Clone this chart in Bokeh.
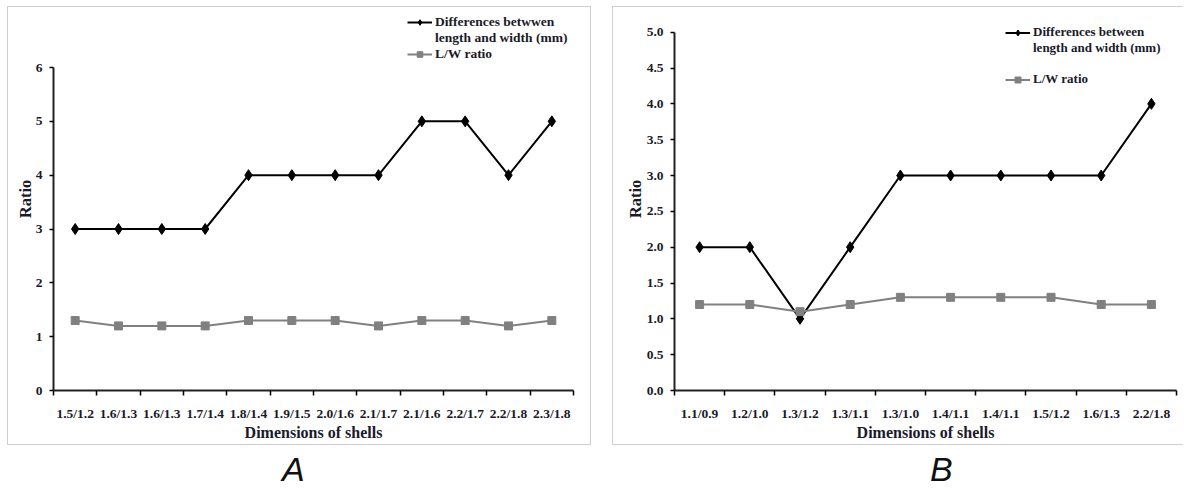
from bokeh.plotting import figure
from bokeh.models import (FixedTicker, Legend, LegendItem, Div, Spacer,
                          PrintfTickFormatter, Range1d)
from bokeh.layouts import row, column
from bokeh.embed import file_html
from bokeh.resources import INLINE

# ---------------- data ----------------
cats_a = ["1.5/1.2", "1.6/1.3", "1.6/1.3", "1.7/1.4", "1.8/1.4", "1.9/1.5",
          "2.0/1.6", "2.1/1.7", "2.1/1.6", "2.2/1.7", "2.2/1.8", "2.3/1.8"]
diff_a = [3, 3, 3, 3, 4, 4, 4, 4, 5, 5, 4, 5]
ratio_a = [1.3, 1.2, 1.2, 1.2, 1.3, 1.3, 1.3, 1.2, 1.3, 1.3, 1.2, 1.3]
yticks_a = [0, 1, 2, 3, 4, 5, 6]

cats_b = ["1.1/0.9", "1.2/1.0", "1.3/1.2", "1.3/1.1", "1.3/1.0", "1.4/1.1",
          "1.4/1.1", "1.5/1.2", "1.6/1.3", "2.2/1.8"]
diff_b = [2, 2, 1, 2, 3, 3, 3, 3, 3, 4]
ratio_b = [1.2, 1.2, 1.1, 1.2, 1.3, 1.3, 1.3, 1.3, 1.2, 1.2]
yticks_b = [0.0, 0.5, 1.0, 1.5, 2.0, 2.5, 3.0, 3.5, 4.0, 4.5, 5.0]

legend_lines_a = ["Differences betwwen", "length and width (mm)"]
legend_lines_b = ["Differences between", "length and width (mm)"]
legend_ratio = "L/W ratio"
x_title = "Dimensions of shells"
y_title = "Ratio"
panel_labels = ["A", "B"]

SERIF = "Liberation Serif"
GRAY = "#808080"
TXT = "#1a1a2a"


def make_panel(cats, diff, ratio, yticks, yfmt, ymax, width, height,
               mbl, mbr, mbt, mbb, diff_lines, gap_item, leg_loc, leg_h,
               leg_spacing, leg_font, ylab_standoff, border):
    n = len(cats)
    xs = list(range(n))
    data_px = height - mbt - mbb
    y_end = ymax * (height - mbb) / data_px   # frame reaches figure top
    p = figure(width=width, height=height,
               x_range=Range1d(-0.5, n - 0.5), y_range=Range1d(0, y_end),
               output_backend="svg", toolbar_location=None,
               min_border_left=mbl, min_border_right=mbr,
               min_border_top=0, min_border_bottom=mbb)
    p.grid.visible = False
    p.outline_line_color = None
    p.styles = border

    r1l = p.line(xs, diff, line_color="black", line_width=2)
    r1m = p.scatter(xs, diff, marker="diamond", size=11, color="black")
    r2l = p.line(xs, ratio, line_color=GRAY, line_width=2)
    r2m = p.scatter(xs, ratio, marker="square", size=8, color=GRAY)

    xa = p.xaxis[0]
    xa.ticker = FixedTicker(ticks=xs,
                            minor_ticks=[i - 0.5 for i in range(n + 1)])
    xa.major_label_overrides = {i: c for i, c in enumerate(cats)}
    xa.major_tick_line_color = None
    xa.major_tick_in = 0
    xa.major_tick_out = 5
    xa.minor_tick_in = 0
    xa.minor_tick_out = 5
    xa.minor_tick_line_color = "black"
    xa.minor_tick_line_width = 1.5
    xa.axis_line_color = "#222222"
    xa.axis_line_width = 2
    xa.major_label_standoff = 10
    xa.major_label_text_font = SERIF
    xa.major_label_text_font_style = "bold"
    xa.major_label_text_font_size = "13.5px"
    xa.major_label_text_color = TXT
    xa.axis_label = x_title
    xa.axis_label_standoff = 0
    xa.axis_label_text_font = SERIF
    xa.axis_label_text_font_style = "bold"
    xa.axis_label_text_font_size = "16px"
    xa.axis_label_text_color = TXT

    ya = p.yaxis[0]
    ya.bounds = (0, ymax)
    ya.ticker = FixedTicker(ticks=yticks, minor_ticks=[])
    ya.formatter = PrintfTickFormatter(format=yfmt)
    ya.major_tick_in = 0
    ya.major_tick_out = 4
    ya.major_tick_line_color = "black"
    ya.major_tick_line_width = 1.5
    ya.minor_tick_line_color = None
    ya.axis_line_color = "#222222"
    ya.axis_line_width = 2
    ya.major_label_standoff = 7
    ya.major_label_text_font = SERIF
    ya.major_label_text_font_style = "bold"
    ya.major_label_text_font_size = "13.5px"
    ya.major_label_text_color = TXT
    ya.axis_label = y_title
    ya.axis_label_standoff = ylab_standoff
    ya.axis_label_text_font = SERIF
    ya.axis_label_text_font_style = "bold"
    ya.axis_label_text_font_size = "16.5px"
    ya.axis_label_text_color = TXT

    items = [LegendItem(label=diff_lines[0], renderers=[r1l, r1m]),
             LegendItem(label=diff_lines[1], renderers=[])]
    if gap_item:
        items.append(LegendItem(label=" ", renderers=[]))
    items.append(LegendItem(label=legend_ratio, renderers=[r2l, r2m]))
    leg = Legend(items=items,
                 location=leg_loc, orientation="vertical",
                 background_fill_alpha=0, border_line_color=None,
                 padding=0, margin=0, spacing=leg_spacing,
                 glyph_width=25, glyph_height=leg_h, label_standoff=3,
                 label_height=leg_h,
                 label_text_font=SERIF, label_text_font_style="bold",
                 label_text_font_size=leg_font, label_text_color=TXT)
    p.add_layout(leg)
    return p


border_a = {"border": "1.5px solid #cfcfcf", "box-sizing": "border-box"}
border_b = {"border-top": "1.5px solid #cfcfcf", "border-left": "1.5px solid #cfcfcf",
            "border-bottom": "1.5px solid #cfcfcf", "box-sizing": "border-box"}

pa = make_panel(cats_a, diff_a, ratio_a, yticks_a, "%d", 6, 584, 439,
                45, 19, 60, 56, legend_lines_a, False, (354, 328), 14, -2,
                "13.5px", -2, border_a)
pb = make_panel(cats_b, diff_b, ratio_b, yticks_b, "%.1f", 5, 571, 439,
                61, 8, 25, 51, legend_lines_b, True, (331, 303), 15, 0,
                "13px", -1, border_b)


def label_div(text, width, pad):
    return Div(text=("<div style=\"font-family:'Liberation Sans',Arial,sans-serif;"
                     "font-style:italic;font-size:34px;line-height:39px;"
                     f"padding-left:{pad}px;color:#111;\">{text}</div>"),
               width=width, height=39)


da = label_div(panel_labels[0], 584, 270)
db = label_div(panel_labels[1], 571, 303)

layout = column(Spacer(height=6),
                row(Spacer(width=7), pa, Spacer(width=21), pb),
                row(Spacer(width=7), da, Spacer(width=21), db))

open("out.html", "w").write(file_html(layout, INLINE))
